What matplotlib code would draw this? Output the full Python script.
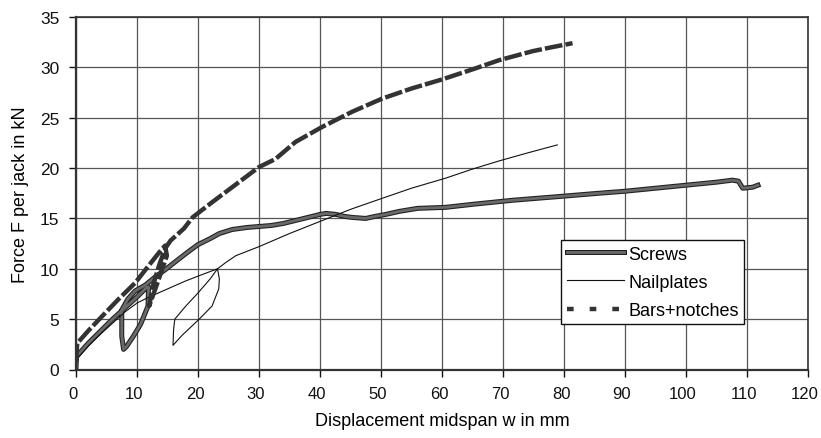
import matplotlib
matplotlib.use("Agg")
import matplotlib.pyplot as plt
from matplotlib.lines import Line2D
from matplotlib.transforms import ScaledTranslation
import matplotlib.patheffects as pe

plt.rcParams['font.family'] = ['Liberation Sans', 'DejaVu Sans']

# Screws: load, unload, reload
screws_x = [0, 0.1, 2, 4, 6, 8, 10, 11.5, 11.9, 11.8, 10.6, 9.4, 8.3, 7.8,
            7.5, 7.5, 8.5, 9.7, 11.4, 13.0, 14.6, 16.5, 18.2, 20.0, 22.0, 23.5,
            25.6, 28.0, 32.0, 34.0, 36.0, 38.7, 40.0, 41.0, 42.6, 44.0, 45.3,
            47.5, 49.0, 50.8, 53.0, 56.0, 60.6, 65.0, 71.5, 79.7, 85.7, 90.0,
            95.0, 100.0, 105.0, 107.6, 108.6, 109.3, 110.9, 111.8]
screws_y = [0.2, 1.3, 2.6, 3.8, 5.0, 6.1, 7.2, 8.1, 8.2, 6.3, 4.5, 3.3, 2.3, 2.0,
            3.3, 5.9, 7.0, 7.8, 8.4, 9.2, 9.9, 10.8, 11.6, 12.4, 13.0, 13.5,
            13.9, 14.1, 14.3, 14.5, 14.8, 15.2, 15.4, 15.5, 15.4, 15.2, 15.1,
            15.0, 15.2, 15.4, 15.7, 16.0, 16.1, 16.4, 16.8, 17.2, 17.5, 17.7,
            18.0, 18.3, 18.6, 18.8, 18.7, 18.0, 18.1, 18.3]

# Nailplates
nail_x = [0, 0.1, 2, 4, 6, 8, 10, 12, 15, 18, 21, 23.2, 23.5, 23.4, 22.3, 20.2,
          17.4, 15.9, 16.0, 16.2, 18.0, 20.0, 22.0, 23.2, 24.5, 26.2, 30.0, 35.0,
          40.4, 45.0, 50.2, 55.0, 60.6, 65.0, 69.3, 74.0, 78.9]
nail_y = [0.2, 1.0, 2.3, 3.5, 4.6, 5.7, 6.6, 7.2, 8.0, 8.8, 9.5, 10.0, 9.0, 8.0,
          6.3, 5.0, 3.4, 2.4, 4.0, 5.0, 6.3, 7.6, 9.0, 10.0, 10.6, 11.3, 12.2,
          13.5, 14.8, 15.9, 17.0, 18.0, 19.0, 19.9, 20.7, 21.5, 22.3]

# Bars+notches
bars_x = [0, 0.2, 2.1, 4.3, 7.0, 9.7, 11.9, 13.6, 14.6, 14.9, 14.1, 13.0,
          12.0, 12.6, 13.6, 14.6, 15.5, 17.7, 19.1, 22.3, 25.6, 30.0,
          32.7, 36.0, 40.4, 45.3, 50.2, 55.0, 60.0, 65.0, 69.3, 74.8, 78.0, 81.4]
bars_y = [0.8, 2.6, 3.9, 5.3, 7.0, 8.6, 10.3, 11.6, 12.3, 11.3, 9.9, 8.0,
          6.3, 8.3, 10.3, 12.0, 12.8, 14.0, 15.1, 16.6, 18.1, 20.1,
          20.9, 22.6, 24.1, 25.6, 26.9, 27.9, 28.8, 29.8, 30.7, 31.6, 32.0, 32.4]

labels = ["Screws", "Nailplates", "Bars+notches"]
xticks = list(range(0, 121, 10))
yticks = list(range(0, 36, 5))

fig = plt.figure(figsize=(8.21, 4.39), dpi=100)
ax = fig.add_axes([76/821, 1-370.5/439, 732/821, 352.5/439])

ax.set_xlim(0, 120)
ax.set_ylim(0, 35)
ax.set_xticks(xticks)
ax.set_yticks(yticks)
ax.grid(True, color='#555555', lw=0.9)
ax.set_axisbelow(True)

screw_fx = [pe.Stroke(linewidth=3.6, foreground='#222222'), pe.Normal()]
ax.plot(screws_x, screws_y, color='#6a6a6a', lw=2.0, solid_joinstyle='round',
        path_effects=screw_fx)
ax.plot(nail_x, nail_y, color='#111111', lw=0.8)
ax.plot(bars_x, bars_y, color='#333333', lw=3.2, dashes=(4, 0.7))

for s in ax.spines.values():
    s.set_color('#333333')
    s.set_linewidth(1.2)
ax.spines['left'].set_linewidth(1.6)
ax.spines['bottom'].set_linewidth(1.6)

ax.tick_params(axis='both', direction='out', length=5, width=1, pad=7,
               labelsize=12.5, colors='#111111')
ax.tick_params(axis='x', labelsize=12)
off = ScaledTranslation(-3/100, 0, fig.dpi_scale_trans)
for lbl in ax.get_xticklabels():
    lbl.set_transform(lbl.get_transform() + off)

ax.set_xlabel("Displacement midspan w in mm", fontsize=13, labelpad=8)
ax.set_ylabel("Force F per jack in kN", fontsize=13, labelpad=8)

handles = [Line2D([], [], color='#6a6a6a', lw=2.0, path_effects=screw_fx),
           Line2D([], [], color='#111111', lw=0.8),
           Line2D([], [], color='#333333', lw=3.2, dashes=(1.5, 3.6))]
leg = ax.legend(handles, labels, loc='upper right', bbox_to_anchor=(0.9126, 0.367),
                fontsize=13, frameon=True, fancybox=False, shadow=False,
                handlelength=3.2, handletextpad=0.2, labelspacing=0.62,
                borderpad=0.3, borderaxespad=0)
leg.get_frame().set_edgecolor('#111111')
leg.get_frame().set_linewidth(1.0)
leg.get_frame().set_alpha(1)

fig.savefig("out.png", dpi=100)
